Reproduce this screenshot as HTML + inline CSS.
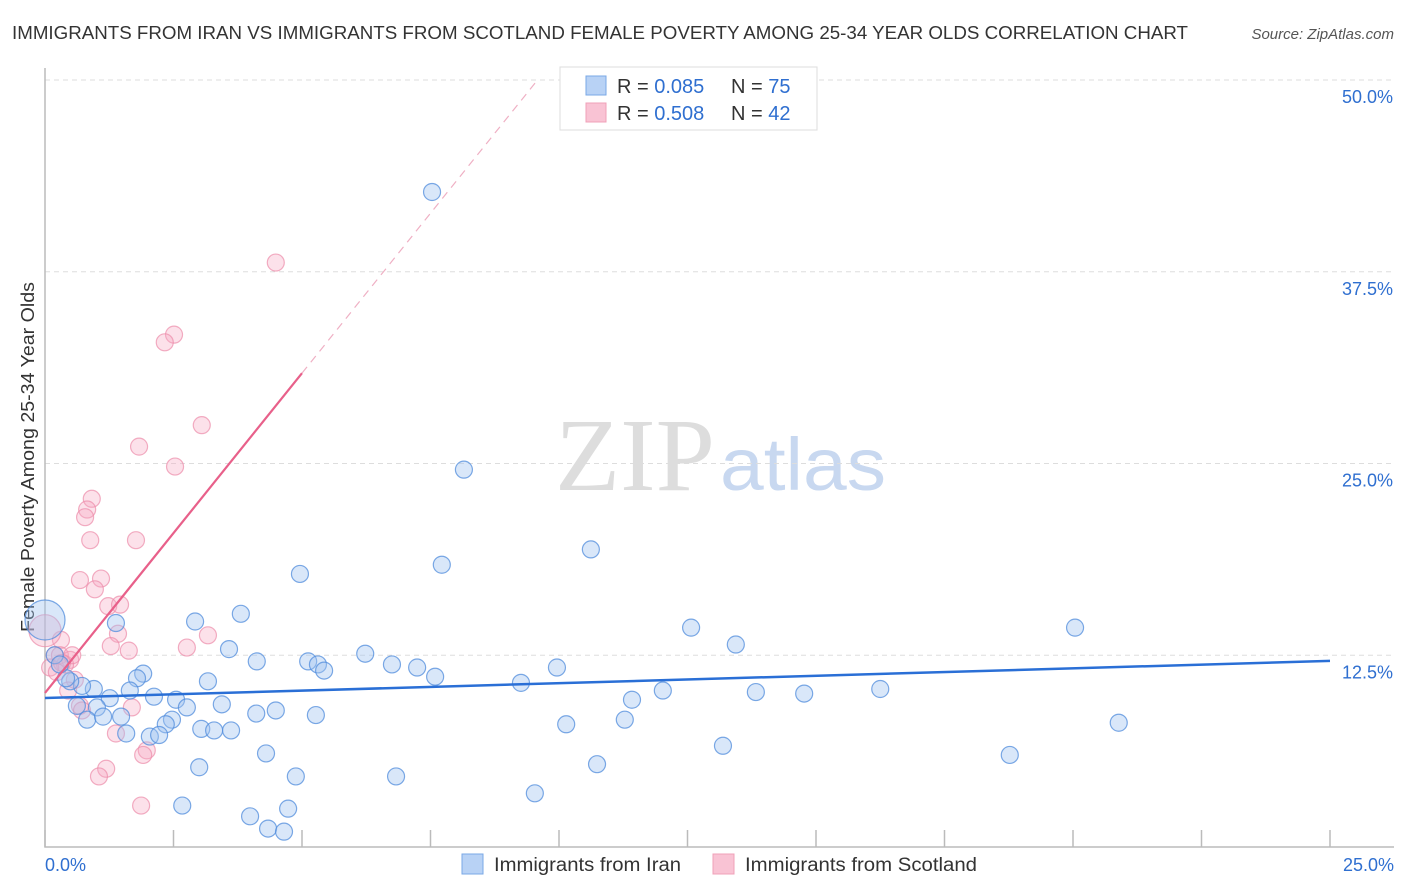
<!DOCTYPE html>
<html><head><meta charset="utf-8"><style>
body{margin:0;background:#fff;font-family:"Liberation Sans",sans-serif;}
svg{display:block}
</style></head><body>
<svg id="chart" width="1406" height="892">
<text x="12" y="39" font-size="18" fill="#333" textLength="1176" lengthAdjust="spacingAndGlyphs">IMMIGRANTS FROM IRAN VS IMMIGRANTS FROM SCOTLAND FEMALE POVERTY AMONG 25-34 YEAR OLDS CORRELATION CHART</text>
<text x="1394" y="39" font-size="15" fill="#555" font-style="italic" text-anchor="end">Source: ZipAtlas.com</text>
<text transform="translate(34,457) rotate(-90)" font-size="18" fill="#333" text-anchor="middle" textLength="350" lengthAdjust="spacingAndGlyphs">Female Poverty Among 25-34 Year Olds</text>
<g><text x="555" y="490" font-size="104" fill="#ddd" font-family="Liberation Serif,serif" textLength="160" lengthAdjust="spacingAndGlyphs">ZIP</text><text x="720" y="490" font-size="74" fill="#c8d8f0" textLength="166" lengthAdjust="spacingAndGlyphs">atlas</text></g>
<g id="grid"></g><g id="axes"></g><g id="marks"></g>
<g>
<rect x="560" y="67" width="257" height="63" fill="#fff" stroke="#ddd"/>
<rect x="586" y="76" width="20" height="19" fill="#b8d2f5" stroke="#7aa8e6"/>
<rect x="586" y="103" width="20" height="19" fill="#f9c3d4" stroke="#f0a0b8"/>
<text x="617" y="93" font-size="20" fill="#333">R = <tspan fill="#2f6fd0">0.085</tspan></text>
<text x="731" y="93" font-size="20" fill="#333">N = <tspan fill="#2f6fd0">75</tspan></text>
<text x="617" y="120" font-size="20" fill="#333">R = <tspan fill="#2f6fd0">0.508</tspan></text>
<text x="731" y="120" font-size="20" fill="#333">N = <tspan fill="#2f6fd0">42</tspan></text>
</g>
<g>
<rect x="462" y="854" width="21" height="20" fill="#b8d2f5" stroke="#7aa8e6"/>
<text x="494" y="871" font-size="19" fill="#333" textLength="187" lengthAdjust="spacingAndGlyphs">Immigrants from Iran</text>
<rect x="713" y="854" width="21" height="20" fill="#f9c3d4" stroke="#f0a0b8"/>
<text x="745" y="871" font-size="19" fill="#333" textLength="232" lengthAdjust="spacingAndGlyphs">Immigrants from Scotland</text>
</g>
</svg>
<script>
const yTicks=[12.5,25,37.5,50];
const yTickLabels=["12.5%","25.0%","37.5%","50.0%"];
const xTicks=[0,2.5,5,7.5,10,12.5,15,17.5,20,22.5,25];
const iranX=[7.53,8.15,10.62,7.72,4.96,3.81,2.92,1.38,12.57,20.04,13.44,3.58,4.12,5.12,5.31,5.43,6.23,6.75,7.24,7.59,9.96,1.91,1.79,3.17,1.65,0.95,0.72,0.49,0.41,2.12,2.55,2.76,3.44,1.26,1.01,0.62,0.82,1.13,1.48,4.11,4.49,5.27,2.47,2.35,3.04,3.29,3.62,1.58,2.04,2.22,9.26,11.42,12.02,13.83,14.77,16.25,10.14,11.28,13.19,20.89,18.77,4.30,3.0,6.83,4.88,10.74,9.53,2.67,4.73,3.99,4.34,4.65,0,0.19,0.29];
const iranY=[42.7,24.6,19.4,18.4,17.8,15.2,14.7,14.6,14.3,14.3,13.2,12.9,12.1,12.1,11.9,11.5,12.6,11.9,11.7,11.1,11.7,11.3,11.0,10.8,10.2,10.3,10.5,10.8,11.0,9.8,9.6,9.1,9.3,9.7,9.1,9.2,8.3,8.5,8.5,8.7,8.9,8.6,8.3,8.0,7.7,7.6,7.6,7.4,7.2,7.3,10.7,9.6,10.2,10.1,10.0,10.3,8.0,8.3,6.6,8.1,6.0,6.1,5.2,4.6,4.6,5.4,3.5,2.7,2.5,2.0,1.2,1.0,14.8,12.5,11.9];
const scotX=[4.49,2.51,2.33,3.05,1.83,2.53,0.91,0.82,0.78,0.88,1.77,0.68,1.09,0.97,1.23,1.46,1.42,1.28,1.63,2.76,3.17,0.31,0.19,0.29,0.49,0.39,0.1,0.53,0.58,0.45,0.68,0.72,1.69,1.38,1.98,1.91,1.19,1.05,1.87,0,0.33,0.23];
const scotY=[38.1,33.4,32.9,27.5,26.1,24.8,22.7,22.0,21.5,20.0,20.0,17.4,17.5,16.8,15.7,15.8,13.9,13.1,12.8,13.0,13.8,13.5,12.5,12.5,12.2,11.9,11.7,12.5,10.9,10.2,9.2,8.9,9.1,7.4,6.3,6.0,5.1,4.6,2.7,14.1,12.0,11.4];
const iranTrend=[9.71,12.13];
const scotTrend=[10.04,4.17];
const NS="http://www.w3.org/2000/svg";
const X=v=>45+v*1285/25, Y=v=>847-v*767/50;
function mk(t,a,p){const e=document.createElementNS(NS,t);for(const k in a)e.setAttribute(k,a[k]);p.appendChild(e);return e;}
const grid=document.getElementById('grid'),axes=document.getElementById('axes'),marks=document.getElementById('marks');
yTicks.forEach((t,i)=>{
 const l=mk('line',{x1:45,x2:1394,y1:Y(t),y2:Y(t),stroke:'#ddd','stroke-dasharray':'5,4'},grid);
 
 
 const tx=mk('text',{x:1393,y:Y(t)+23,'font-size':18,fill:'#2f6fd0','text-anchor':'end'},axes);
 tx.textContent=yTickLabels[i];
 
 
});
const ax=mk('path',{d:'M45,68 V847 H1394',fill:'none',stroke:'#bbb','stroke-width':1.5},axes);


xTicks.forEach(t=>{
 const l=mk('line',{x1:X(t),x2:X(t),y1:830,y2:847,stroke:'#bbb','stroke-width':1.5},axes);
 
 
});
const xl0=mk('text',{x:45,y:871,'font-size':18,fill:'#2f6fd0'},axes);xl0.textContent='0.0%';


const xl1=mk('text',{x:1394,y:871,'font-size':18,fill:'#2f6fd0','text-anchor':'end'},axes);xl1.textContent='25.0%';


scotX.forEach((x,i)=>{
 const r=(i===39)?16:8.5;
 const c=mk('circle',{cx:X(x),cy:Y(scotY[i]),r:r,fill:'rgba(246,170,195,0.35)',stroke:'rgba(236,140,170,0.7)','stroke-width':1.2},marks);
 
 
});
iranX.forEach((x,i)=>{
 const r=(i===72)?20:8.5;
 const c=mk('circle',{cx:X(x),cy:Y(iranY[i]),r:r,fill:'rgba(160,195,240,0.4)',stroke:'rgba(80,140,220,0.75)','stroke-width':1.2},marks);
 
 
});
const bl=mk('line',{x1:X(0),y1:Y(iranTrend[0]),x2:X(25),y2:Y(iranTrend[1]),stroke:'#2a6fd6','stroke-width':2.5},marks);


const xEnd=(50-scotTrend[0])/scotTrend[1];
const pl=mk('line',{x1:X(0),y1:Y(scotTrend[0]),x2:X(5),y2:Y(scotTrend[0]+5*scotTrend[1]),stroke:'#e8608a','stroke-width':2.2},marks);


const pd=mk('line',{x1:X(5),y1:Y(scotTrend[0]+5*scotTrend[1]),x2:X(xEnd),y2:Y(50),stroke:'#efb0c4','stroke-width':1.2,'stroke-dasharray':'8,6'},marks);


</script>
</body></html>
